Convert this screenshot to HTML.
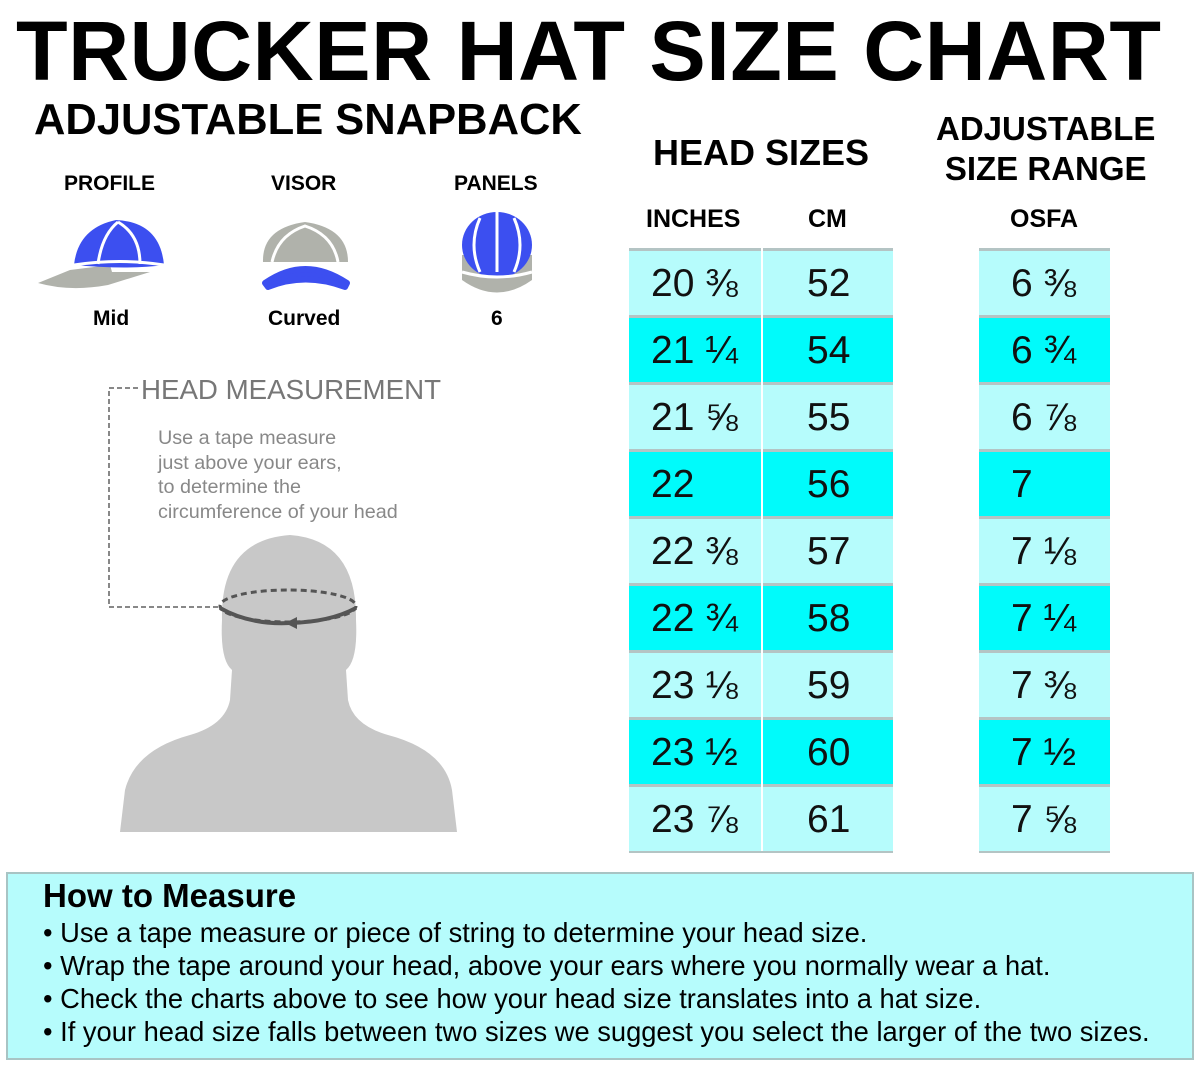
<!DOCTYPE html>
<html><head><style>
body{margin:0;width:1200px;height:1070px;background:#fff;position:relative;overflow:hidden;font-family:"Liberation Sans",Arial,sans-serif;}
.a{position:absolute;white-space:nowrap;}
.b{font-weight:bold;}
.cell{position:absolute;height:64px;border-top:3px solid #b4c4c4;font-size:39px;color:#111;line-height:66px;}
.l{background:#b6fcfc}.d{background:#00fbfb}
</style></head><body>
<div class="a b" style="left:16px;top:6px;font-size:84.5px;letter-spacing:0.5px;line-height:90px;">TRUCKER HAT SIZE CHART</div>
<div class="a b" style="left:34px;top:96px;font-size:43.5px;line-height:48px;">ADJUSTABLE SNAPBACK</div>
<div class="a b" style="left:64px;top:172px;font-size:21px;">PROFILE</div>
<div class="a b" style="left:271px;top:172px;font-size:21px;">VISOR</div>
<div class="a b" style="left:454px;top:172px;font-size:21px;">PANELS</div>
<div class="a b" style="left:93px;top:307px;font-size:21px;">Mid</div>
<div class="a b" style="left:268px;top:307px;font-size:21px;">Curved</div>
<div class="a b" style="left:491px;top:307px;font-size:21px;">6</div>
<svg class="a" style="left:0;top:0" width="600" height="340">
<path d="M38 283 L70 270 L110 265 L112 272 L150 272 L108 285 Q70 292 38 283Z" fill="#b0b2ab"/>
<path d="M74 265 Q78 228 116 220 Q160 222 164 265 Q130 270 74 265Z" fill="#3c4ff0"/>
<path d="M98 264 Q102 235 118 222 M140 264 Q140 235 118 222 M74 265 Q120 258 164 265" stroke="#fff" stroke-width="3" fill="none"/>
<path d="M263 262 Q262 228 305 222 Q348 228 348 262 Z" fill="#b0b2ab"/>
<path d="M272 262 Q278 235 305 226 Q333 235 338 262" stroke="#fff" stroke-width="3" fill="none"/>
<path d="M265 283 Q305 255 347 283 L345 287 Q305 272 268 287Z" fill="#3c4ff0" stroke="#3c4ff0" stroke-width="6" stroke-linejoin="round"/>
<path d="M462 255 L532 255 L532 280 Q497 305 462 280Z" fill="#b0b2ab"/>
<ellipse cx="497" cy="245" rx="35" ry="33" fill="#3c4ff0"/>
<path d="M497 212 L497 272 M480 218 Q468 245 480 272 M514 218 Q526 245 514 272 M462 272 Q497 282 532 272" stroke="#fff" stroke-width="3" fill="none"/>
</svg>
<div class="a" style="left:141px;top:374px;font-size:27.7px;color:#777;">HEAD MEASUREMENT</div>
<div class="a" style="left:158px;top:426px;font-size:19.8px;color:#888;line-height:24.5px;">Use a tape measure<br>just above your ears,<br>to determine the<br>circumference of your head</div>
<svg class="a" style="left:0;top:380px" width="600" height="460">
<path d="M138 8 L109 8 L109 227 L222 227" stroke="#888" stroke-width="2" stroke-dasharray="5,3" fill="none"/>
<path d="M120 452 L125 410 Q135 370 190 355 Q225 345 230 320 L232 290 Q220 280 222 240 Q220 160 290 155 Q357 160 356 240 Q358 280 346 290 L348 320 Q353 345 388 355 Q445 370 452 410 L457 452Z" fill="#c8c8c8"/>
<ellipse cx="288" cy="226" rx="68" ry="16" fill="none" stroke="#555" stroke-width="3" stroke-dasharray="6,4"/>
<path d="M220 228 Q250 245 290 243 Q330 242 356 228" stroke="#555" stroke-width="4" fill="none"/>
<path d="M285 243 l12 -6 l0 12z" fill="#555"/>
</svg>
<div class="a b" style="left:653px;top:132px;font-size:36px;">HEAD SIZES</div>
<div class="a b" style="left:936px;top:109px;font-size:33px;line-height:40px;text-align:center;">ADJUSTABLE<br>SIZE RANGE</div>
<div class="a b" style="left:646px;top:205px;font-size:25px;">INCHES</div>
<div class="a b" style="left:808px;top:205px;font-size:25px;">CM</div>
<div class="a b" style="left:1010px;top:205px;font-size:25px;">OSFA</div>
<div id="t"></div>
<script>
var r=[["20 ⅜","52","6 ⅜"],["21 ¼","54","6 ¾"],["21 ⅝","55","6 ⅞"],["22","56","7"],["22 ⅜","57","7 ⅛"],["22 ¾","58","7 ¼"],["23 ⅛","59","7 ⅜"],["23 ½","60","7 ½"],["23 ⅞","61","7 ⅝"]];
var h="";r.forEach(function(x,i){var y=248+i*67,c=i%2?"d":"l";
h+='<div class="cell '+c+'" style="left:629px;top:'+y+'px;width:132px;"><span style="margin-left:22px">'+x[0]+'</span></div>';
h+='<div class="cell '+c+'" style="left:763px;top:'+y+'px;width:130px;"><span style="margin-left:44px">'+x[1]+'</span></div>';
h+='<div class="cell '+c+'" style="left:979px;top:'+y+'px;width:131px;"><span style="margin-left:32px">'+x[2]+'</span></div>';});
h+='<div class="a" style="left:629px;top:851px;width:264px;height:2px;background:#b4c4c4"></div><div class="a" style="left:979px;top:851px;width:131px;height:2px;background:#b4c4c4"></div>';
document.getElementById("t").innerHTML=h;
</script>
<div class="a" style="left:6px;top:872px;width:1184px;height:184px;background:#b6fcfc;border:2px solid #a8c4c4;"></div>
<div class="a b" style="left:43px;top:877px;font-size:33px;">How to Measure</div>
<div class="a" style="left:43px;top:916px;font-size:27.3px;line-height:33px;">• Use a tape measure or piece of string to determine your head size.<br>• Wrap the tape around your head, above your ears where you normally wear a hat.<br>• Check the charts above to see how your head size translates into a hat size.<br>• If your head size falls between two sizes we suggest you select the larger of the two sizes.</div>
</body></html>
